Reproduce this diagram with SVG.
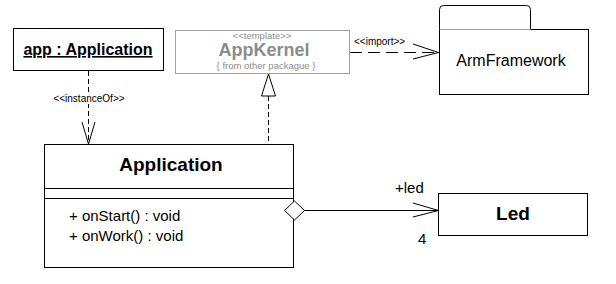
<svg xmlns="http://www.w3.org/2000/svg" width="616" height="284" viewBox="0 0 616 284">
<style>
text{font-family:"Liberation Sans",Arial,sans-serif;fill:#000}
.box{fill:#fff;stroke:#000;stroke-width:1}
.title{font-weight:bold;font-size:19px;text-anchor:middle}
.small{font-size:10px}
.norm{font-size:15px}
.line{fill:none;stroke:#000;stroke-width:1}
.dash{fill:none;stroke:#000;stroke-width:1;stroke-dasharray:5,3}
.gray{fill:#8c8c8c}
</style>
<rect width="616" height="284" fill="#fff"/>
<g id="app">
<rect class="box" x="13.5" y="28.5" width="150" height="42"/>
<text x="88" y="55" style="font-weight:bold;font-size:16px;text-decoration:underline" text-anchor="middle">app : Application</text>
</g>
<g id="appkernel">
<rect x="175.5" y="30.5" width="174" height="43" fill="#fff" stroke="#a0a0a0"/>
<text x="262" y="38.5" class="gray" style="font-size:9.5px" text-anchor="middle">&lt;&lt;template&gt;&gt;</text>
<text x="264" y="56" class="gray" style="font-weight:bold;font-size:18px" text-anchor="middle">AppKernel</text>
<text x="266" y="69" class="gray" style="font-size:9.5px" text-anchor="middle">{ from other packague }</text>
</g>
<g id="armframework">
<path class="box" d="M439.5,29.5 V9.5 Q439.5,5.5 443.5,5.5 H526.5 Q530.5,5.5 530.5,9.5 V29.5 Z"/>
<rect class="box" x="439.5" y="29.5" width="149" height="65"/>
<line x1="439.5" y1="29.5" x2="530.5" y2="29.5" stroke="#a0a0a0"/>
<text x="511" y="66" style="font-size:16px" text-anchor="middle">ArmFramework</text>
</g>
<g id="application">
<rect class="box" x="44.5" y="144.5" width="249" height="123"/>
<line class="line" x1="44.5" y1="188.5" x2="293.5" y2="188.5"/>
<line class="line" x1="44.5" y1="198.5" x2="293.5" y2="198.5"/>
<text x="171" y="171" class="title">Application</text>
<text x="69" y="221" class="norm">+ onStart() : void</text>
<text x="69" y="241" class="norm">+ onWork() : void</text>
</g>
<g id="led">
<rect class="box" x="438.5" y="193.5" width="149" height="42"/>
<text x="513" y="220" class="title">Led</text>
</g>
<g id="connectors">
<line class="dash" x1="88.5" y1="71" x2="88.5" y2="144"/>
<polyline class="line" points="82,122 88.5,144 95,122"/>
<rect x="50" y="93" width="78" height="11" fill="#fff"/>
<text x="89" y="102" class="small" text-anchor="middle">&lt;&lt;instanceOf&gt;&gt;</text>
<line class="dash" x1="268.5" y1="96" x2="268.5" y2="144"/>
<polygon class="box" points="268.5,74 261.5,96 275.5,96"/>
<line class="line" x1="350" y1="52.5" x2="438" y2="52.5" stroke-dasharray="12,6"/>
<polyline class="line" points="413,44 438.5,52.5 413,59"/>
<text x="354" y="45" class="small">&lt;&lt;import&gt;&gt;</text>
<polygon class="box" points="284.5,210.5 294.5,201 304.5,210.5 294.5,220"/>
<line class="line" x1="304.5" y1="210.5" x2="438" y2="210.5"/>
<polyline class="line" points="413,203 438.5,210.5 413,217"/>
<text x="395" y="193" class="norm">+led</text>
<text x="418" y="244" class="norm">4</text>
</g>
</svg>
